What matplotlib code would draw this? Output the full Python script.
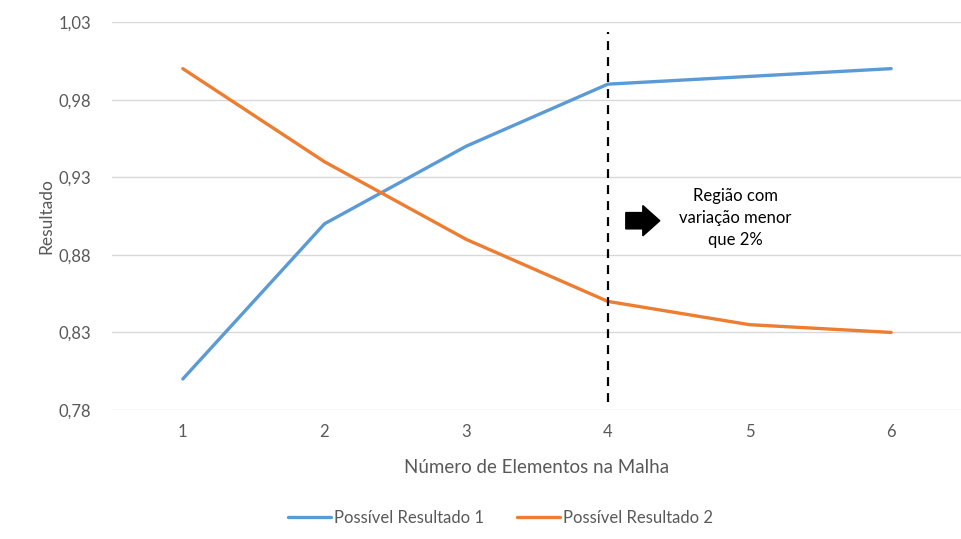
import matplotlib
matplotlib.use("Agg")
import matplotlib.pyplot as plt
from matplotlib.patches import FancyArrow

plt.rcParams['font.family'] = ['Lato', 'DejaVu Sans']

elementos = [1, 2, 3, 4, 5, 6]
resultado_1 = [0.80, 0.90, 0.95, 0.99, 0.995, 1.00]
resultado_2 = [1.00, 0.94, 0.89, 0.85, 0.835, 0.83]
y_ticks = [0.78, 0.83, 0.88, 0.93, 0.98, 1.03]
limite_x = 4

text_color = '#595959'
blue = '#5B9BD5'
orange = '#ED7D31'

fig = plt.figure(figsize=(9.62, 5.39), dpi=100)
ax = fig.add_axes([0.1164, 0.2393, 0.8836, 0.7197])

ax.plot(elementos, resultado_1, color=blue, lw=2.4, label='Possível Resultado 1',
        solid_capstyle='round', solid_joinstyle='round')
ax.plot(elementos, resultado_2, color=orange, lw=2.4, label='Possível Resultado 2',
        solid_capstyle='round', solid_joinstyle='round')

ax.set_xlim(0.5, 6.5)
ax.set_ylim(y_ticks[0], y_ticks[-1])
ax.set_yticks(y_ticks)
ax.set_yticklabels([f"{v:.2f}".replace('.', ',') for v in y_ticks])
ax.set_xticks(elementos)
ax.set_xticklabels([str(e) for e in elementos])
ax.grid(axis='y', color='#d9d9d9', lw=1)
ax.set_axisbelow(True)
for s in ax.spines.values():
    s.set_visible(False)
ax.tick_params(length=0, colors=text_color, labelsize=12)
ax.tick_params(axis='y', pad=15)
ax.tick_params(axis='x', pad=10)

ax.set_xlabel('Número de Elementos na Malha', color=text_color, fontsize=13.5, labelpad=14)
ax.set_ylabel('Resultado', color=text_color, fontsize=12.5, labelpad=3)

# vertical dashed marker at the threshold mesh size
ax.plot([limite_x, limite_x], [0.785, 1.0235], color='black', lw=1.6,
        dashes=(4, 3.2), zorder=3)

# arrow pointing into the converged region
arr = FancyArrow(4.127, 0.902, 0.12, 0, width=0.0105, head_width=0.0195,
                 head_length=0.12, length_includes_head=False,
                 color='black', transform=ax.transData)
ax.add_patch(arr)
ax.text(4.9, 0.9037, 'Região com\nvariação menor\nque 2%', ha='center', va='center',
        fontsize=12, color='black', linespacing=1.45)

leg = fig.legend(loc='center', bbox_to_anchor=(0.52, 0.039), ncol=2, frameon=False,
                 fontsize=12, handlelength=2.6, handletextpad=0.15, columnspacing=2.0)
for t in leg.get_texts():
    t.set_color(text_color)

fig.savefig('out.png', dpi=100)
